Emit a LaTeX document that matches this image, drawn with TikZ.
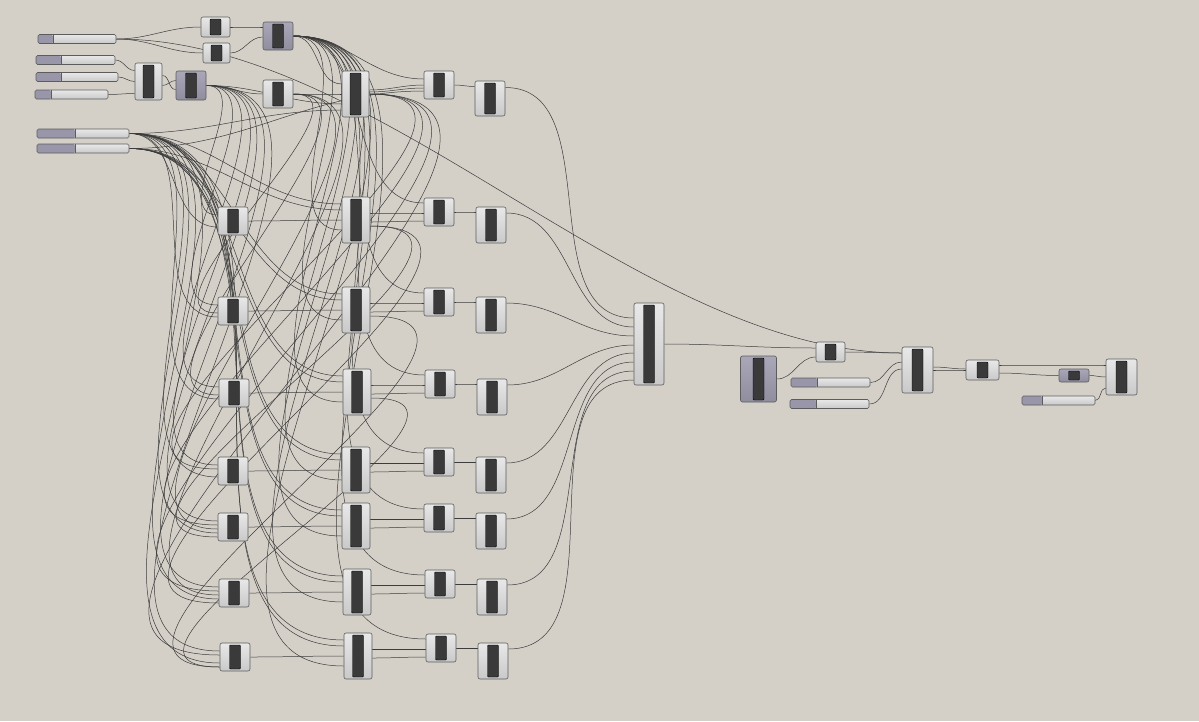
\documentclass[tikz,border=0pt]{standalone}
\usepackage{xcolor}
\usepackage{tikz}
\usetikzlibrary{positioning,calc,backgrounds}
\definecolor{canvas}{HTML}{D4D0C8}
\definecolor{boxtop}{HTML}{E8E8E8}
\definecolor{boxbot}{HTML}{C9C9C9}
\definecolor{paramtop}{HTML}{A9A7B8}
\definecolor{parambot}{HTML}{8F8D9E}
\definecolor{knob}{HTML}{9896A8}
\definecolor{gripcol}{HTML}{3A3A3A}
\definecolor{edgecol}{HTML}{5C5C5C}
\definecolor{wirecol}{HTML}{3C3C3C}
\pgfdeclarelayer{canvaslayer}
\pgfsetlayers{canvaslayer,background,main}

\begin{document}
\begin{tikzpicture}[x=1pt,y=-1pt,
  comp/.style={draw=edgecol,line width=0.6pt,rounded corners=2pt,top color=boxtop,bottom color=boxbot,
    inner sep=0pt,minimum width=30pt,minimum height=28pt,
    path picture={\fill[gripcol,draw=black,line width=0.4pt,rounded corners=1pt]
      ([xshift=-5.5pt,yshift=-2pt]path picture bounding box.north) rectangle ([xshift=5.5pt,yshift=2pt]path picture bounding box.south);}},
  param/.style={comp,top color=paramtop,bottom color=parambot},
  slider/.style={draw=edgecol,line width=0.6pt,rounded corners=1.5pt,top color=boxtop,bottom color=boxbot,
    inner sep=0pt,minimum height=9pt,
    path picture={\fill[knob] (path picture bounding box.north west) rectangle ([xshift=#1]path picture bounding box.south west);
      \draw[edgecol,line width=0.5pt] ([xshift=#1]path picture bounding box.north west) -- ([xshift=#1]path picture bounding box.south west);}},
  wire/.style={draw=wirecol,line width=0.5pt,out=0,in=180}]
  \useasboundingbox (0,0) rectangle (1199,721);
  \begin{pgfonlayer}{canvaslayer}
    \fill[canvas] (0,0) rectangle (1199,721);
  \end{pgfonlayer}

  % number sliders
  \node[slider=15pt,minimum width=78pt] (s1) at (77,39) {};
  \node[slider=25pt,minimum width=79pt] (s2) at (75.5,60) {};
  \node[slider=25pt,minimum width=82pt] (s3) at (77,77) {};
  \node[slider=16pt,minimum width=73pt] (s4) at (71.5,94.5) {};
  \node[slider=38pt,minimum width=92pt] (s5) at (83,133.5) {};
  \node[slider=38pt,minimum width=92pt] (s6) at (83,148.5) {};

  % top chain
  \node[comp,minimum width=29pt,minimum height=20pt] (c1) at (215.5,27) {};
  \node[comp,minimum width=27pt,minimum height=20pt] (c2) at (216.5,53) {};
  \node[param] (p1) at (278,36) {};
  \node[comp,minimum width=27pt,minimum height=37pt] (c3) at (148.5,81.5) {};
  \node[param,minimum height=29pt] (p2) at (191,85.5) {};
  \node[comp] (c4) at (278,94) {};
  \node[comp,minimum width=27pt,minimum height=46pt] (c5) at (355.5,94) {};
  \node[comp] (c6) at (439,85) {};
  \node[comp,minimum height=35pt] (c7) at (490,98.5) {};

  % rows
  \foreach \r/\y/\dx in {1/221/0,2/311/0,3/393/1,4/471/0,5/527/0,6/593/1,7/657/2} {
    \node[comp] (a\r) at (233+\dx,\y) {};
    \node[comp,minimum width=28pt,minimum height=46pt] (b\r) at (356+\dx,\y-1) {};
    \node[comp] (d\r) at (439+\dx,\y-9) {};
    \node[comp,minimum height=36pt] (e\r) at (491+\dx,\y+4) {};
  }
  \node[comp,minimum height=82pt] (m1) at (649,344) {};

  % right part
  \node[param,minimum width=36pt,minimum height=46pt] (p3) at (758.5,379) {};
  \node[comp,minimum width=29pt,minimum height=20pt] (f1) at (830.5,352) {};
  \node[slider=26pt,minimum width=79pt] (s7) at (830.5,382.5) {};
  \node[slider=26pt,minimum width=79pt] (s8) at (829.5,404) {};
  \node[comp,minimum width=31pt,minimum height=46pt] (g1) at (917.5,370) {};
  \node[comp,minimum width=33pt,minimum height=20pt] (h1) at (982.5,370) {};
  \node[param,minimum width=30pt,minimum height=13pt] (p4) at (1074,375.5) {};
  \node[slider=20pt,minimum width=73pt] (s9) at (1058.5,400.5) {};
  \node[comp,minimum width=31pt,minimum height=36pt] (k1) at (1121.5,377) {};

  \begin{scope}[on background layer]
    % top wires
    \draw[wire] (s1.east) to (c1.west);
    \draw[wire] (s1.east) to (c2.west);
    \draw[wire,looseness=0.8] (s1.east) to ([yshift=17pt]g1.west);
    \draw[wire] (c1.east) to ([yshift=9pt]p1.west);
    \draw[wire] (c2.east) to ([yshift=-1pt]p1.west);
    \draw[wire] (s2.east) to ([yshift=11pt]c3.west);
    \draw[wire] (s3.east) to (c3.west);
    \draw[wire] (s4.east) to ([yshift=-12pt]c3.west);
    \draw[wire] ([yshift=6pt]c3.east) to ([yshift=-4pt]p2.west);
    \draw[wire] ([yshift=-4pt]c3.east) to ([yshift=5pt]p2.west);
    \draw[wire] (p2.east) to (c4.west);
    \draw[wire] (p2.east) to ([yshift=-10pt]c5.west);
    \draw[wire] (c4.east) to (c5.west);
    \draw[wire] (p1.east) to ([yshift=10pt]c5.west);
    \draw[wire] (p1.east) to ([yshift=6pt]c6.west);
    \draw[wire] (s5.east) to ([yshift=-16pt]c5.west);
    \draw[wire] (s6.east) to ([yshift=-6pt]c6.west);
    \draw[wire] ([yshift=4pt]c5.east) to (c6.west);
    \draw[wire] ([yshift=2pt]c5.east) to ([yshift=-3pt]c6.west);
    \draw[wire] (c6.east) to ([yshift=12pt]c7.west);
    \draw[wire] ([yshift=11pt]c7.east) to ([yshift=26pt]m1.west);
    % fan out to the rows
    \foreach \r in {1,...,7} {
      \draw[wire] (p2.east) to ([yshift=6pt]a\r.west);
      \draw[wire] (s5.east) to ([yshift=-6pt]a\r.west);
      \draw[wire] (s5.east) to ([yshift=16pt]b\r.west);
      \draw[wire] (s6.east) to ([yshift=10pt]b\r.west);
      \draw[wire] (p1.east) to ([yshift=-10pt]b\r.west);
      \draw[wire] (p1.east) to ([yshift=9pt]d\r.west);
    }
    \foreach \r in {4,...,7} \draw[wire,looseness=1.3] (c5.east) to ([yshift=2pt]a\r.west);
    \foreach \r in {2,3,5,6} \draw[wire] (c4.east) to ([yshift=-2pt]a\r.west);
    \foreach \r/\t in {1/5,1/6,2/7,3/7} \draw[wire,looseness=1.4] ([yshift=-6pt]b\r.east) to ([yshift=-10pt]a\t.west);
    % row chains into the merge
    \foreach \r/\m in {1/17,2/8,3/-1,4/-9,5/-18,6/-27,7/-36} {
      \draw[wire] (a\r.east) to (b\r.west);
      \draw[wire] ([yshift=7pt]b\r.east) to ([yshift=-1pt]d\r.west);
      \draw[wire] ([yshift=-2pt]b\r.east) to ([yshift=-9pt]d\r.west);
      \draw[wire] (d\r.east) to ([yshift=13pt]e\r.west);
      \draw[wire] ([yshift=12pt]e\r.east) to ([yshift=\m pt]m1.west);
    }
    % right wires
    \draw[wire] (m1.east) to ([yshift=4pt]f1.west);
    \draw[wire] (p3.east) to ([yshift=-5pt]f1.west);
    \draw[wire] (f1.east) to ([yshift=17pt]g1.west);
    \draw[wire] (s7.east) to ([yshift=8pt]g1.west);
    \draw[wire] (s8.east) to ([yshift=1pt]g1.west);
    \draw[wire] (g1.east) to (h1.west);
    \draw[wire] ([yshift=3pt]g1.east) to ([yshift=1pt]h1.west);
    \draw[wire] ([yshift=5pt]h1.east) to ([yshift=12pt]k1.west);
    \draw[wire] ([yshift=-3pt]h1.east) to (p4.west);
    \draw[wire] (p4.east) to (k1.west);
    \draw[wire] (s9.east) to ([yshift=-11pt]k1.west);
  \end{scope}
\end{tikzpicture}
\end{document}
